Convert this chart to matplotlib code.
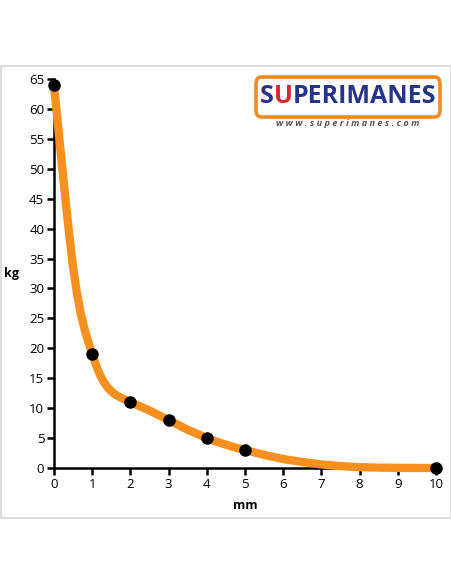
import matplotlib
matplotlib.use("Agg")
import matplotlib.pyplot as plt
from matplotlib.patches import FancyBboxPatch, Rectangle
from matplotlib.offsetbox import TextArea, HPacker, AnnotationBbox

# Measured data points
point_mm = [0, 1, 2, 3, 4, 5, 10]
point_kg = [64, 19, 11, 8, 5, 3, 0]

# Trend curve
curve_mm = [0, 0.1, 0.2, 0.3, 0.4, 0.5, 0.6, 0.7, 0.8, 0.9, 1.0, 1.1, 1.2, 1.3,
            1.4, 1.5, 1.6, 1.7, 1.8, 1.9, 2.0, 2.25, 2.5, 2.75, 3.0, 3.25, 3.5,
            3.75, 4.0, 4.25, 4.5, 4.75, 5.0, 5.5, 6.0, 6.5, 7.0, 7.5, 8.0, 8.5,
            9.0, 10.0]
curve_kg = [64, 57.6, 51.2, 44.9, 38.9, 33.6, 29.2, 25.8, 23.2, 21.0, 19.0, 17.2,
            15.6, 14.4, 13.5, 12.8, 12.3, 11.9, 11.6, 11.3, 11.0, 10.3, 9.6, 8.8,
            8.0, 7.2, 6.4, 5.7, 5.0, 4.4, 3.9, 3.4, 3.0, 2.2, 1.5, 1.0, 0.6,
            0.32, 0.14, 0.06, 0.02, 0]

x_ticks = list(range(0, 11))
y_ticks = list(range(0, 70, 5))

plt.rcParams['font.family'] = ['Open Sans', 'DejaVu Sans']

fig = plt.figure(figsize=(4.52, 5.84), dpi=100)

# light gray frame
fig.patches.append(Rectangle((1/452, (584-518)/584), 450/452, 452/584,
                             transform=fig.transFigure, fill=False,
                             edgecolor='#d9d9d9', linewidth=1.2))

ax = fig.add_axes([54/452, (584-468)/584, 382/452, (468-79)/584])
ax.plot(curve_mm, curve_kg, color='#F7901E', linewidth=6, solid_capstyle='round',
        solid_joinstyle='round', zorder=3, clip_on=False)
ax.plot(point_mm, point_kg, 'o', color='black', markersize=8, zorder=4, clip_on=False)

ax.set_xlim(0, 10)
ax.set_ylim(0, 65)
ax.set_xticks(x_ticks)
ax.set_yticks(y_ticks)
for s in ['top', 'right']:
    ax.spines[s].set_visible(False)
for s in ['left', 'bottom']:
    ax.spines[s].set_linewidth(1.8)
ax.tick_params(axis='both', direction='out', length=5, width=1.8, labelsize=9.5,
               colors='black', pad=2)
ax.set_xlabel('mm', fontsize=9, fontweight='bold', labelpad=6)
fig.text(12/452, 1 - 273/584, 'kg', fontsize=9, fontweight='bold',
         ha='center', va='center')

# Logo
fig.patches.append(FancyBboxPatch((256/452, (584-117)/584), 184/452, 40/584,
                                  boxstyle='round,pad=0,rounding_size=0.012',
                                  transform=fig.transFigure, facecolor='white',
                                  edgecolor='#F08A24', linewidth=2.6))
props = dict(fontsize=18, fontweight='bold', family=['Open Sans', 'DejaVu Sans'])
parts = [TextArea('S', textprops=dict(color='#27348B', **props)),
         TextArea('U', textprops=dict(color='#D7262E', **props)),
         TextArea('PERIMANES', textprops=dict(color='#27348B', **props))]
box = HPacker(children=parts, pad=0, sep=0, align='baseline')
ab = AnnotationBbox(box, (348/452, 1 - 97/584), xycoords='figure fraction',
                    frameon=False, box_alignment=(0.5, 0.5), pad=0)
fig.add_artist(ab)
fig.text(348/452, 1 - 124/584, 'w w w . s u p e r i m a n e s . c o m', fontsize=6.6,
         fontweight='bold', style='italic', color='#555555', ha='center', va='center')

fig.savefig('out.png', dpi=100, facecolor='white')
